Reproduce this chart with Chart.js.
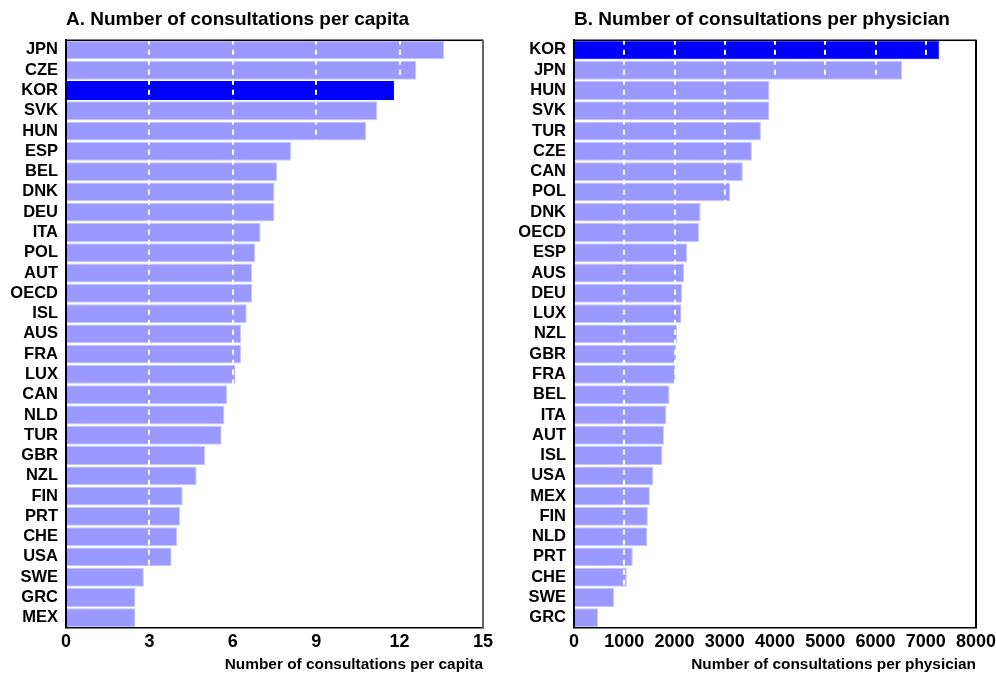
<!DOCTYPE html>
<html>
<head>
<meta charset="utf-8">
<script src="https://cdn.jsdelivr.net/npm/chart.js@4.4.0/dist/chart.umd.min.js"></script>
<style>
    body { margin: 0; background: #fff; }
    .box { position: absolute; top: 0; width: 498px; height: 678px; }
    #left { left: 0; }
    #right { left: 498px; }
</style>
</head>
<body>
<div class="box" id="left"><canvas id="bar-capita"></canvas></div>
<div class="box" id="right"><canvas id="bar-physician"></canvas></div>
<script>
// panel A: consultations per capita
const capitaLabels = ["JPN", "CZE", "KOR", "SVK", "HUN", "ESP", "BEL", "DNK", "DEU", "ITA",
    "POL", "AUT", "OECD", "ISL", "AUS", "FRA", "LUX", "CAN", "NLD", "TUR",
    "GBR", "NZL", "FIN", "PRT", "CHE", "USA", "SWE", "GRC", "MEX"];
const capitaValues = [13.6, 12.6, 11.8, 11.2, 10.8, 8.1, 7.6, 7.5, 7.5, 7.0,
    6.8, 6.7, 6.7, 6.5, 6.3, 6.3, 6.1, 5.8, 5.7, 5.6,
    5.0, 4.7, 4.2, 4.1, 4.0, 3.8, 2.8, 2.5, 2.5];
const capitaTicks = [0, 3, 6, 9, 12, 15];

// panel B: consultations per physician
const physicianLabels = ["KOR", "JPN", "HUN", "SVK", "TUR", "CZE", "CAN", "POL", "DNK", "OECD",
    "ESP", "AUS", "DEU", "LUX", "NZL", "GBR", "FRA", "BEL", "ITA", "AUT",
    "ISL", "USA", "MEX", "FIN", "NLD", "PRT", "CHE", "SWE", "GRC"];
const physicianValues = [7270, 6530, 3890, 3890, 3720, 3540, 3360, 3110, 2520, 2490,
    2250, 2190, 2150, 2140, 2050, 2030, 2020, 1900, 1840, 1790,
    1760, 1580, 1510, 1470, 1460, 1170, 1050, 800, 480];
const physicianTicks = [0, 1000, 2000, 3000, 4000, 5000, 6000, 7000, 8000];

const FONT = "'Liberation Sans', Arial, sans-serif";

// frame on top + right of plot area
const frame = {
    id: 'frame',
    afterDraw(chart, args, opts) {
        const a = chart.chartArea, ctx = chart.ctx;
        ctx.save();
        ctx.lineWidth = 1.5;
        ctx.strokeStyle = '#000';
        ctx.beginPath();
        ctx.moveTo(a.left, a.top + 0.5);
        ctx.lineTo(a.right, a.top + 0.5);
        ctx.stroke();
        ctx.lineWidth = 2;
        ctx.strokeStyle = opts.rightColor || '#000';
        ctx.beginPath();
        ctx.moveTo(a.right, a.top);
        ctx.lineTo(a.right, a.bottom);
        ctx.stroke();
        ctx.restore();
    }
};

function makeChart(id, labels, values, ticks, title, axisTitle, yWidth, padRight, rightColor) {
    new Chart(document.getElementById(id), {
        type: 'bar',
        data: {
            labels: labels,
            datasets: [{
                data: values,
                backgroundColor: labels.map(l => l === 'KOR' ? '#0000ff' : '#9999ff'),
                borderColor: labels.map(l => l === 'KOR' ? '#0000ff' : '#c4c4ff'),
                borderWidth: 1,
                barPercentage: 0.93,
                categoryPercentage: 1
            }]
        },
        options: {
            indexAxis: 'y',
            responsive: true,
            maintainAspectRatio: false,
            animation: false,
            layout: { padding: { top: 8, right: padRight, left: 0, bottom: 0 } },
            plugins: {
                legend: { display: false },
                tooltip: { enabled: false },
                title: {
                    display: true,
                    text: title,
                    align: 'start',
                    fullSize: false,
                    color: '#000',
                    font: { family: FONT, size: 19, weight: 'bold', lineHeight: 1.2 },
                    padding: { top: 0, bottom: 9 }
                },
                frame: { rightColor: rightColor }
            },
            scales: {
                x: {
                    min: 0,
                    max: ticks[ticks.length - 1],
                    afterBuildTicks: s => { s.ticks = ticks.map(v => ({ value: v })); },
                    // let the last tick label hang into the right margin
                    afterFit: s => { s.paddingLeft = 0; s.paddingRight = 0; },
                    // white dashed grid drawn over the bars
                    grid: { color: '#fff', lineWidth: 2, drawTicks: false, z: 1 },
                    border: { color: '#000', width: 1.5, dash: [5, 5], z: 1 },
                    ticks: {
                        color: '#000',
                        padding: 3,
                        maxRotation: 0,
                        minRotation: 0,
                        autoSkip: false,
                        callback: v => String(v),
                        font: { family: FONT, size: 18, weight: 'bold' }
                    },
                    title: {
                        display: true,
                        text: axisTitle,
                        align: 'end',
                        color: '#000',
                        font: { family: FONT, size: 15.4, weight: 'bold', lineHeight: 1.2 },
                        padding: { top: 0, bottom: 4 }
                    }
                },
                y: {
                    afterFit: s => { s.width = yWidth; },
                    grid: { display: false, drawTicks: false },
                    border: { color: '#000', width: 2, z: 1 },
                    ticks: {
                        color: '#000',
                        padding: 8,
                        autoSkip: false,
                        font: { family: FONT, size: 16.5, weight: 'bold' }
                    }
                }
            }
        },
        plugins: [frame]
    });
}

makeChart("bar-capita", capitaLabels, capitaValues, capitaTicks,
    "A. Number of consultations per capita", "Number of consultations per capita", 66, 15, '#666');
makeChart("bar-physician", physicianLabels, physicianValues, physicianTicks,
    "B. Number of consultations per physician", "Number of consultations per physician", 76, 20, '#000');
</script>
</body>
</html>
